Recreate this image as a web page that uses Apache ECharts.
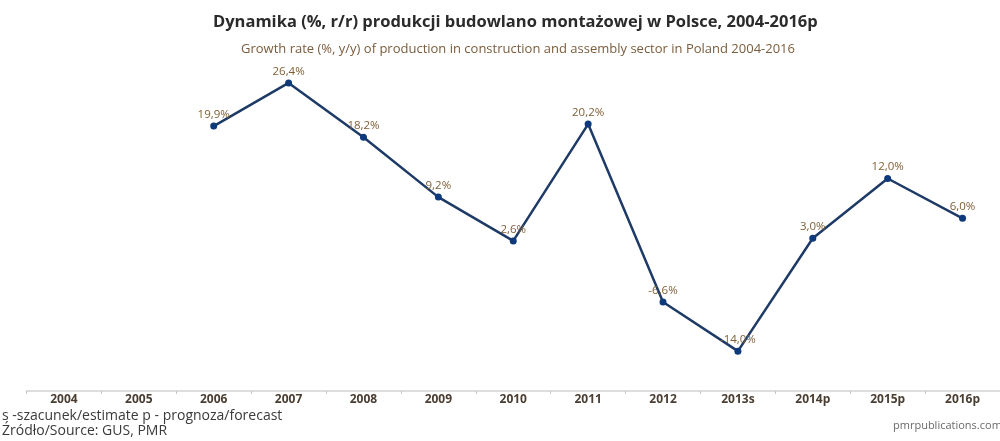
<!DOCTYPE html>
<html>
<head>
<meta charset="utf-8">
<script src="https://cdn.jsdelivr.net/npm/echarts@6/dist/echarts.min.js"></script>
<style>
  html, body { margin: 0; padding: 0; background: #ffffff; }
  #chart { width: 1000px; height: 441px; }
</style>
</head>
<body>
<div id="chart"></div>
<script>
// Years on the category axis (s = estimate, p = forecast)
const years = ['2004', '2005', '2006', '2007', '2008', '2009', '2010', '2011', '2012', '2013s', '2014p', '2015p', '2016p'];
// Year-on-year growth of construction & assembly output, %
const growth = [null, null, 19.9, 26.4, 18.2, 9.2, 2.6, 20.2, -6.6, -14.0, 3.0, 12.0, 6.0];

const titleText = 'Dynamika (%, r/r) produkcji budowlano montażowej w Polsce, 2004-2016p';
const subtitleText = 'Growth rate (%, y/y) of production in construction and assembly sector in Poland 2004-2016';
const noteText = 's -szacunek/estimate p - prognoza/forecast';
const sourceText = 'Źródło/Source: GUS, PMR';
const siteText = 'pmrpublications.com';

const FONT = '"Open Sans", "DejaVu Sans", sans-serif';

const chart = echarts.init(document.getElementById('chart'), null, { renderer: 'canvas' });

chart.setOption({
  backgroundColor: '#ffffff',
  animation: false,
  title: [
    {
      text: titleText,
      left: 208,
      top: 9,
      textStyle: { fontFamily: FONT, fontSize: 16.5, fontWeight: 'bold', color: '#2b2b2b' }
    },
    {
      text: subtitleText,
      left: 236,
      top: 38,
      textStyle: { fontFamily: FONT, fontSize: 13, fontWeight: 'normal', color: '#7a5c3c' }
    }
  ],
  graphic: [
    {
      type: 'text', left: 2, top: 409,
      style: { text: noteText, font: '14px ' + FONT, fill: '#3a3a3a' }
    },
    {
      type: 'text', left: 2, top: 424,
      style: { text: sourceText, font: '14px ' + FONT, fill: '#3a3a3a' }
    },
    {
      type: 'text', left: 893, top: 420,
      style: { text: siteText, font: '11px ' + FONT, fill: '#6a6a6a' }
    }
  ],
  grid: { left: 26.5, width: 975, top: 59, height: 332, containLabel: false },
  xAxis: {
    type: 'category',
    data: years,
    boundaryGap: true,
    axisLine: { show: true, onZero: false, lineStyle: { color: '#d2d2d2', width: 1.5 } },
    axisTick: { show: true, length: 3, lineStyle: { color: '#c4c4c4' } },
    axisLabel: {
      fontFamily: FONT, fontSize: 12, fontWeight: 'bold', color: '#4a3e32', margin: 3
    },
    splitLine: { show: false }
  },
  yAxis: {
    type: 'value',
    min: -20,
    max: 30,
    show: false
  },
  series: [
    {
      type: 'line',
      data: growth,
      connectNulls: false,
      symbol: 'circle',
      symbolSize: 7,
      lineStyle: { color: '#1e3a66', width: 2.5 },
      itemStyle: { color: '#0e3a7c' },
      label: {
        show: true,
        position: 'top',
        distance: 2,
        fontFamily: FONT,
        fontSize: 11.5,
        color: '#7f5f35',
        formatter: p => p.value.toFixed(1).replace('.', ',') + '%'
      }
    }
  ]
});
</script>
</body>
</html>
